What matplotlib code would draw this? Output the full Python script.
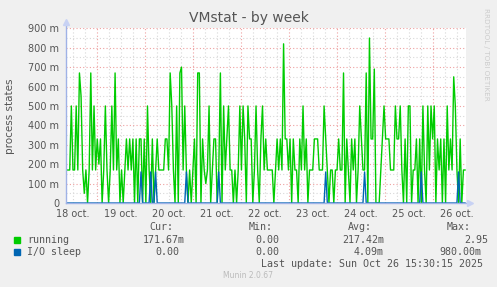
import numpy as np
import matplotlib
matplotlib.use('Agg')
import matplotlib.pyplot as plt

# ---- data (values in processes; "m" = milli) ----
running_part1 = [0.17,0.17,0.17,0.50,0.17,0.17,0.50,0.17,0.67,0.55,0.17,0.05,0.17,0.00,0.17,0.67,0.17,0.50,0.17,0.33,
                 0.20,0.33,0.00,0.17,0.50,0.17,0.00,0.17,0.50,0.17,0.67,0.17,0.33,0.00,0.17,0.00,0.17,0.33,0.17,0.33,
                 0.17,0.33,0.00,0.33,0.00,0.33,0.33,0.00,0.33,0.00,0.50,0.17,0.00,0.33,0.00,0.17,0.33,0.17,0.17,0.17,
                 0.17,0.33,0.33,0.17,0.67,0.50,0.17,0.00,0.50,0.00,0.67,0.70,0.17,0.50,0.17,0.00,0.17,0.00,0.17,0.33,
                 0.00,0.67]
running_part2 = [0.67,0.00,0.33,0.17,0.10,0.17,0.50,0.00,0.17,0.33,0.33,0.00,0.17,0.67,0.00,0.50,0.17,0.33,0.50,0.17,
                 0.17,0.00,0.17,0.00,0.17,0.50,0.17,0.50,0.33,0.00,0.50,0.33,0.33,0.00,0.17,0.50,0.17,0.00,0.33,0.50,
                 0.17,0.33,0.17,0.17,0.17,0.17,0.00,0.17,0.33,0.17,0.33,0.17,0.82,0.33,0.33,0.17,0.33,0.00,0.33,0.17,
                 0.17,0.00,0.33,0.17,0.50,0.17,0.33,0.00,0.17,0.17,0.17,0.33,0.33,0.33,0.17,0.17,0.17,0.50,0.33,0.17,
                 0.00,0.17]
running_part3 = [0.17,0.00,0.17,0.17,0.33,0.17,0.17,0.67,0.00,0.33,0.17,0.00,0.33,0.17,0.33,0.00,0.17,0.50,0.33,0.17,
                 0.17,0.67,0.00,0.85,0.33,0.33,0.69,0.00,0.00,0.00,0.17,0.33,0.50,0.33,0.33,0.33,0.17,0.17,0.17,0.50,
                 0.33,0.33,0.50,0.17,0.00,0.33,0.00,0.50,0.50,0.00,0.17,0.17,0.33,0.00,0.33,0.00,0.50,0.17,0.00,0.50,
                 0.17,0.50,0.33,0.50,0.00,0.33,0.17,0.33,0.00,0.33,0.00,0.50,0.17,0.33,0.17,0.65,0.50,0.17,0.00,0.33,
                 0.00,0.17,0.17]
io_spike_index = [46, 52, 55, 74, 94, 160, 184, 219, 242]
io_spike_value = [0.16, 0.16, 0.16, 0.16, 0.16, 0.16, 0.16, 0.16, 0.16]

day_labels = ['18 oct.', '19 oct.', '20 oct.', '21 oct.', '22 oct.', '23 oct.', '24 oct.', '25 oct.', '26 oct.']
y_values = [0, 0.1, 0.2, 0.3, 0.4, 0.5, 0.6, 0.7, 0.8, 0.9]
y_labels = ['0', '100 m', '200 m', '300 m', '400 m', '500 m', '600 m', '700 m', '800 m', '900 m']

legend_names = ['running', 'I/O sleep']
legend_colors = ['#00cc00', '#0066b3']
stat_cur = ['171.67m', '0.00']
stat_min = ['0.00', '0.00']
stat_avg = ['217.42m', '4.09m']
stat_max = ['2.95', '980.00m']

# ---- figure ----
W, H = 497, 287
fig = plt.figure(figsize=(W / 100, H / 100), dpi=100, facecolor='#f0f0f0')
ax = fig.add_axes([66 / W, 1 - 203 / H, 400 / W, (203 - 28.3) / H])
ax.set_facecolor('white')

running = running_part1 + running_part2 + running_part3
n = len(running)
t = np.linspace(0.37, 8.67, n)
io = np.zeros(n)
for i, v in zip(io_spike_index, io_spike_value):
    if i < n:
        io[i] = v

ax.set_xlim(0.36, 8.69)
ax.set_ylim(0, 0.9)

# grid
minor_c = '#d8d8d8'
major_c = '#eea0a0'
for d in np.arange(0.5, 8.75, 0.25):
    if d < 0.36 or d > 8.69:
        continue
    if abs(d - round(d)) < 1e-6:
        continue
    ax.axvline(d, color=minor_c, lw=0.8, ls=(0, (1, 2)), zorder=1)
for d in range(1, 9):
    ax.axvline(d, color=major_c, lw=0.8, ls=(0, (1, 2)), zorder=1)
for y in np.arange(0.05, 0.9, 0.1):
    ax.axhline(y, color=minor_c, lw=0.8, ls=(0, (1, 2)), zorder=1)
for y in y_values[1:]:
    ax.axhline(y, color=major_c, lw=0.8, ls=(0, (1, 2)), zorder=1)

ax.plot(t, running, color=legend_colors[0], lw=1.0, zorder=3)
ax.plot(t, io, color=legend_colors[1], lw=1.0, zorder=4)

for s in ax.spines.values():
    s.set_visible(False)

# axes lines with arrows
axis_c = '#9fb2e6'
ax.plot([0.36, 8.77], [0, 0], color=axis_c, lw=1.0, clip_on=False, zorder=5)
ax.plot([0.36, 0.36], [0, 0.93], color=axis_c, lw=1.0, clip_on=False, zorder=5)
ax.plot([8.77], [0], marker='>', color='#c8d2f4', ms=4, clip_on=False, zorder=5)
ax.plot([0.36], [0.93], marker='^', color='#c8d2f4', ms=4, clip_on=False, zorder=5)

ax.set_xticks([d + 0.5 for d in range(len(day_labels))])
ax.set_xticklabels(day_labels)
ax.set_yticks(y_values)
ax.set_yticklabels(y_labels)
ax.tick_params(axis='both', length=0, labelsize=7, labelcolor='#555555', pad=4)
ax.tick_params(axis='y', pad=5)

# title etc
fig.text(249 / W, 1 - 18 / H, 'VMstat - by week', ha='center', va='center', fontsize=10, color='#555555')
fig.text(10 / W, 1 - 116 / H, 'process states', rotation=90, ha='center', va='center', fontsize=7.5, color='#555555')
fig.text(486 / W, 1 - 54 / H, 'RRDTOOL / TOBI OETIKER', rotation=270, ha='center', va='center', fontsize=5.2, color='#cccccc')

mono = dict(family='DejaVu Sans Mono', fontsize=7.2, color='#555555', va='center')
fy = lambda y: 1 - y / H
fig.text(149 / W, fy(227), 'Cur:', **mono)
fig.text(249 / W, fy(227), 'Min:', **mono)
fig.text(348 / W, fy(227), 'Avg:', **mono)
fig.text(447 / W, fy(227), 'Max:', **mono)

rows_y = [240, 252]
cur_x = [143, 155]
avg_x = [342, 354]
max_x = [464, 439]
for k in range(2):
    y = rows_y[k]
    fig.patches.append(plt.Rectangle((14 / W, fy(y + 3)), 6 / W, 6 / H, transform=fig.transFigure,
                                     color=legend_colors[k], figure=fig))
    fig.text(27 / W, fy(y), legend_names[k], **mono)
    fig.text(cur_x[k] / W, fy(y), stat_cur[k], **mono)
    fig.text(255 / W, fy(y), stat_min[k], **mono)
    fig.text(avg_x[k] / W, fy(y), stat_avg[k], **mono)
    fig.text(max_x[k] / W, fy(y), stat_max[k], **mono)

fig.text(483 / W, fy(264), 'Last update: Sun Oct 26 15:30:15 2025', ha='right', **mono)
fig.text(248 / W, fy(276), 'Munin 2.0.67', ha='center', va='center', fontsize=5.5, color='#bbbbbb')

fig.savefig('out.png', dpi=100, facecolor=fig.get_facecolor())
